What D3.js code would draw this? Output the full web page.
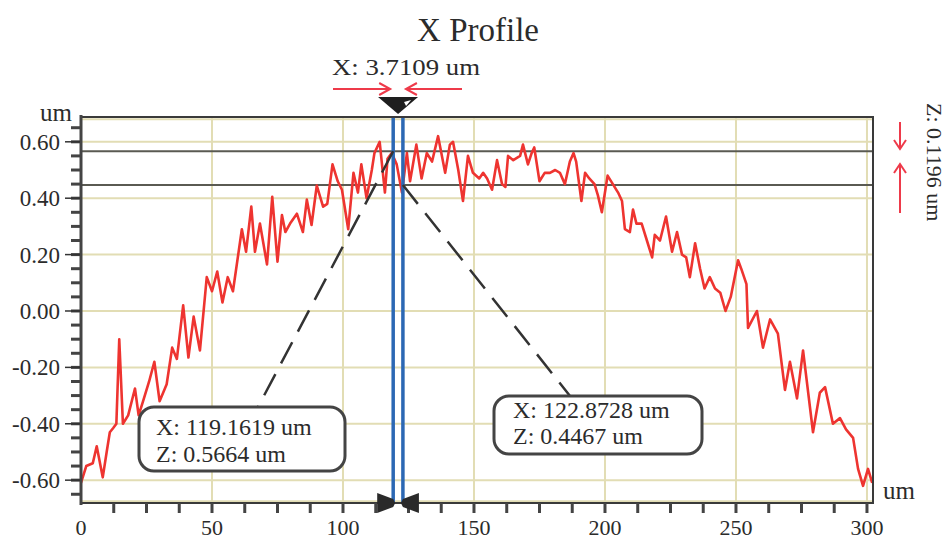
<!DOCTYPE html>
<html>
<head>
<meta charset="utf-8">
<script src="https://cdn.jsdelivr.net/npm/d3@7"></script>
<style>
  body { margin: 0; background: #fff; }
  svg { display: block; font-family: "Liberation Serif", "Times New Roman", serif; }
</style>
</head>
<body>
<svg id="chart"></svg>
<script>
// profile (x in um, z in um)
const profileX = [0, 2, 4.5, 6, 8.3, 9.8, 11, 12.3, 13.5, 14.6, 16, 18, 20.6, 22, 23.7, 26, 28, 30, 32.7, 34.8,
  36.6, 39, 41, 43, 45.4, 48, 50, 52, 54, 56, 58, 61.4, 63, 65, 66.4, 68.3, 71, 73, 75, 76.7,
  78, 79.8, 82.4, 84.7, 86.2, 88, 90, 92.4, 94, 96, 98, 99.6, 102, 104, 105.7, 107, 109, 111, 112, 114,
  116, 117, 118.6, 120.5, 122.5, 124.4, 125.6, 128, 130, 132, 134, 136.3, 139, 140.8, 142, 144, 145.8, 147.7, 149.6, 152,
  153.5, 155, 156.9, 158.8, 160.7, 162, 163, 165, 167.6, 168.7, 170.6, 172, 173, 175, 177, 179, 181, 182.8, 184.7, 186.6,
  188, 189, 191, 192.4, 194, 196, 197.3, 198.8, 201, 203, 205, 206.5, 207.6, 209.5, 210.7, 212, 214, 216, 218, 219,
  221, 223.3, 225.6, 227.5, 229.4, 231, 232.4, 234.4, 236.3, 238, 240, 242, 244, 246, 248, 250.8, 252, 254, 254.6, 258,
  260.3, 263, 266, 268.7, 270.6, 273.3, 275.6, 279.4, 282, 284, 287, 289.7, 292, 294.7, 296.6, 298.5, 300.4, 302];
const profileZ = [-0.61, -0.55, -0.54, -0.48, -0.59, -0.50, -0.43, -0.415, -0.40, -0.10, -0.40, -0.37, -0.275, -0.37, -0.32, -0.25, -0.18, -0.32, -0.26, -0.13,
  -0.17, 0.02, -0.165, -0.02, -0.14, 0.12, 0.07, 0.14, 0.03, 0.12, 0.07, 0.29, 0.21, 0.37, 0.21, 0.31, 0.165, 0.405, 0.175, 0.34,
  0.28, 0.31, 0.345, 0.28, 0.395, 0.305, 0.445, 0.37, 0.38, 0.52, 0.46, 0.43, 0.29, 0.49, 0.42, 0.52, 0.40, 0.50, 0.56, 0.60,
  0.42, 0.54, 0.56, 0.52, 0.42, 0.56, 0.46, 0.59, 0.47, 0.56, 0.53, 0.62, 0.49, 0.59, 0.60, 0.50, 0.39, 0.55, 0.49, 0.47,
  0.49, 0.47, 0.43, 0.535, 0.45, 0.44, 0.55, 0.535, 0.55, 0.59, 0.52, 0.56, 0.58, 0.46, 0.49, 0.49, 0.50, 0.49, 0.45, 0.53,
  0.56, 0.53, 0.39, 0.49, 0.47, 0.45, 0.41, 0.35, 0.48, 0.45, 0.42, 0.39, 0.29, 0.28, 0.36, 0.31, 0.31, 0.25, 0.19, 0.27,
  0.25, 0.335, 0.21, 0.28, 0.20, 0.19, 0.12, 0.24, 0.15, 0.08, 0.12, 0.08, 0.065, 0.0, 0.05, 0.18, 0.15, 0.095, -0.06, 0.0,
  -0.13, -0.03, -0.08, -0.28, -0.18, -0.31, -0.14, -0.43, -0.29, -0.27, -0.40, -0.38, -0.42, -0.45, -0.56, -0.62, -0.56, -0.61];

const xTicks = [0, 50, 100, 150, 200, 250, 300];
const zTicks = [0.60, 0.40, 0.20, 0.00, -0.20, -0.40, -0.60];
const cursorX = [119.1619, 122.8728];
const cursorZ = [0.5664, 0.4467];
const deltaX = 3.7109, deltaZ = 0.1196;

const width = 951, height = 540;
const plotL = 81, plotR = 873, plotT = 117, plotB = 503;

const x = d3.scaleLinear().domain([0, 302.3]).range([plotL, plotR]);
const y = d3.scaleLinear().domain([-0.681, 0.688]).range([plotB, plotT]);

const svg = d3.select("#chart").attr("width", width).attr("height", height);
const ink = "#2b2b2b";

// title
svg.append("text").attr("x", 478).attr("y", 41).attr("text-anchor", "middle")
  .attr("font-size", 33).attr("fill", ink).text("X Profile");

// grid
const grid = svg.append("g").attr("stroke", "#e2ddb4").attr("stroke-width", 2);
grid.selectAll("line.h").data(zTicks.concat([0.68, -0.675])).join("line")
  .attr("x1", plotL).attr("x2", plotR).attr("y1", d => y(d)).attr("y2", d => y(d));
grid.selectAll("line.v").data(xTicks.slice(1)).join("line")
  .attr("y1", plotT).attr("y2", plotB).attr("x1", d => x(d)).attr("x2", d => x(d));

// z cursor lines
svg.append("g").selectAll("line").data(cursorZ).join("line")
  .attr("x1", plotL).attr("x2", plotR).attr("y1", d => y(d)).attr("y2", d => y(d))
  .attr("stroke", "#5a5a52").attr("stroke-width", 2);

// profile
const line = d3.line().x((d, i) => x(profileX[i])).y(d => y(d));
svg.append("path").datum(profileZ).attr("d", line)
  .attr("fill", "none").attr("stroke", "#ee3430").attr("stroke-width", 2.6)
  .attr("stroke-linejoin", "round");

// x cursor lines
svg.append("g").selectAll("line").data(cursorX).join("line")
  .attr("x1", d => x(d)).attr("x2", d => x(d)).attr("y1", plotT).attr("y2", plotB)
  .attr("stroke", "#2c68b4").attr("stroke-width", 3.5);

// frame
svg.append("rect").attr("x", plotL).attr("y", plotT).attr("width", plotR - plotL).attr("height", plotB - plotT)
  .attr("fill", "none").attr("stroke", "#3a3a3a").attr("stroke-width", 2);
svg.append("line").attr("x1", plotL).attr("x2", plotL).attr("y1", plotT - 2).attr("y2", plotB + 2)
  .attr("stroke", "#444").attr("stroke-width", 3);

// y axis
const yAxis = svg.append("g").attr("transform", `translate(${plotL - 1},0)`);
yAxis.selectAll("line.minor").data(d3.range(-0.65, 0.6751, 0.05)).join("line")
  .attr("x1", -9).attr("x2", 0).attr("y1", d => y(d)).attr("y2", d => y(d))
  .attr("stroke", "#444").attr("stroke-width", 3);
yAxis.selectAll("line.major").data(zTicks).join("line")
  .attr("x1", -15).attr("x2", 0).attr("y1", d => y(d)).attr("y2", d => y(d))
  .attr("stroke", "#333").attr("stroke-width", 1.5);
yAxis.selectAll("text").data(zTicks).join("text")
  .attr("x", -20).attr("y", d => y(d) + 8).attr("text-anchor", "end")
  .attr("font-size", 23).attr("fill", ink).text(d => d.toFixed(2));
svg.append("text").attr("x", 40).attr("y", 121).attr("font-size", 25).attr("fill", ink).text("um");

// x axis
const xAxis = svg.append("g").attr("transform", `translate(0,${plotB})`);
xAxis.selectAll("line").data(d3.range(12.5, 300.1, 12.5)).join("line")
  .attr("x1", d => x(d)).attr("x2", d => x(d)).attr("y1", 0).attr("y2", 10)
  .attr("stroke", "#444").attr("stroke-width", 3);
xAxis.selectAll("text").data(xTicks).join("text")
  .attr("x", d => x(d)).attr("y", 32).attr("text-anchor", "middle")
  .attr("font-size", 22).attr("fill", ink).text(d => d);
svg.append("text").attr("x", 883).attr("y", 499).attr("font-size", 25).attr("fill", ink).text("um");

// callouts
const boxes = [
  { x: 139, y: 407, w: 206, h: 64, tx: 156, ty: [435, 462], lx: 258 },
  { x: 494, y: 396, w: 208, h: 58, tx: 513, ty: [418, 444], lx: 570 }
];
boxes.forEach((b, i) => {
  svg.append("line")
    .attr("x1", x(cursorX[i])).attr("y1", y(cursorZ[i]))
    .attr("x2", b.lx).attr("y2", b.y)
    .attr("stroke", "#333").attr("stroke-width", 2.5).attr("stroke-dasharray", "24 12");
  svg.append("rect").attr("x", b.x).attr("y", b.y).attr("width", b.w).attr("height", b.h)
    .attr("rx", 15).attr("fill", "#fff").attr("stroke", "#444").attr("stroke-width", 3);
  svg.append("text").attr("x", b.tx).attr("y", b.ty[0]).attr("font-size", 24).attr("fill", ink)
    .text(`X: ${cursorX[i].toFixed(4)} um`);
  svg.append("text").attr("x", b.tx).attr("y", b.ty[1]).attr("font-size", 24).attr("fill", ink)
    .text(`Z: ${cursorZ[i].toFixed(4)} um`);
});

// delta X marker on top
const xa = x(cursorX[0]), xb = x(cursorX[1]), xm = (xa + xb) / 2;
svg.append("text").attr("x", 332).attr("y", 75)
  .attr("font-size", 23).attr("textLength", 148).attr("lengthAdjust", "spacingAndGlyphs")
  .attr("fill", ink).text(`X: ${deltaX.toFixed(4)} um`);
const red = "#ee3a4a";
[[333, xa - 3, 1], [462, xb + 3, -1]].forEach(([x0, tip, s]) => {
  svg.append("line").attr("x1", x0).attr("x2", tip).attr("y1", 89).attr("y2", 89)
    .attr("stroke", red).attr("stroke-width", 2);
  svg.append("path").attr("d", `M${tip - s * 11},${83} L${tip},89 L${tip - s * 11},${95}`)
    .attr("fill", "none").attr("stroke", red).attr("stroke-width", 2);
});
svg.append("path").attr("d", `M${xm - 20},97 L${xm + 20},97 L${xm},114 Z`).attr("fill", "#1e1e1e");
svg.append("path").attr("d", `M${xm + 6},102 L${xm + 13},100 L${xm + 8},106 Z`).attr("fill", "#fff");

// bottom marker
svg.append("path")
  .attr("d", `M${xa - 16},493 L${xa},499 L${xa + 2},503 L${xa},507 L${xa - 16},513 Z M${xb + 16},493 L${xb},499 L${xb - 2},503 L${xb},507 L${xb + 16},513 Z`)
  .attr("fill", "#2a2a2a");

// delta Z marker on right
svg.append("text").attr("transform", "translate(927,103) rotate(90)")
  .attr("font-size", 22).attr("fill", ink).text(`Z: ${deltaZ.toFixed(4)} um`);
svg.append("line").attr("x1", 900).attr("x2", 900).attr("y1", 122).attr("y2", 149)
  .attr("stroke", red).attr("stroke-width", 2);
svg.append("path").attr("d", "M894,140 L900,149 L906,140").attr("fill", "none").attr("stroke", red).attr("stroke-width", 2);
svg.append("line").attr("x1", 900).attr("x2", 900).attr("y1", 213).attr("y2", 164)
  .attr("stroke", red).attr("stroke-width", 2);
svg.append("path").attr("d", "M894,173 L900,164 L906,173").attr("fill", "none").attr("stroke", red).attr("stroke-width", 2);
</script>
</body>
</html>
